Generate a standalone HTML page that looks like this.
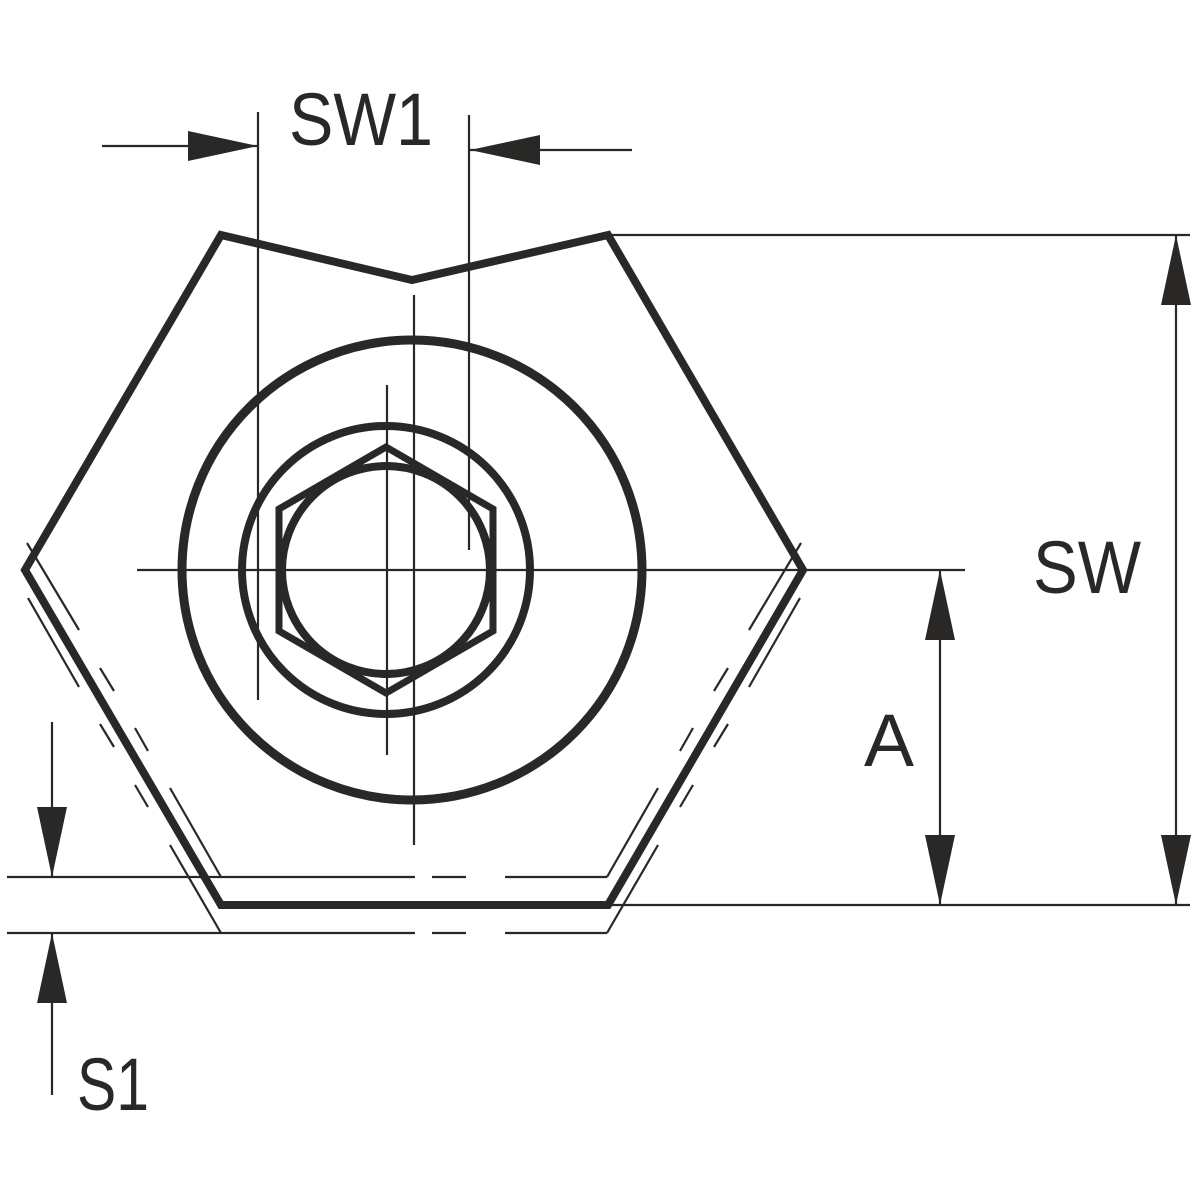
<!DOCTYPE html>
<html><head><meta charset="utf-8"><style>html,body{margin:0;padding:0;background:#fff}svg{display:block}</style></head><body>
<svg width="1200" height="1200" viewBox="0 0 1200 1200" xmlns="http://www.w3.org/2000/svg">
<defs>
<marker id="ah" viewBox="0 0 70 30" refX="70" refY="15" markerWidth="70" markerHeight="30" markerUnits="userSpaceOnUse" orient="auto"><path d="M0,0 L70,15 L0,30 Z" fill="#2a2727"/></marker>
</defs>
<g fill="none" stroke="#2a2727" stroke-linejoin="miter">
<polygon points="221,235 412,280 608,235 803,570 608,905 221,905 25,570" stroke-width="8"/>
<circle cx="412" cy="570" r="230" stroke-width="9"/>
<circle cx="386" cy="570" r="144" stroke-width="8"/>
<circle cx="386" cy="570" r="104" stroke-width="8"/>
<polygon points="386,447 493,509 493,631 386,693 279,631 279,509" stroke-width="7"/>
</g>
<g fill="none" stroke="#2a2727" stroke-width="2.2">
<line x1="137" y1="570" x2="965" y2="570"/>
<line x1="387" y1="385" x2="387" y2="755"/>
<line x1="414" y1="295" x2="414" y2="845"/>
<line x1="258" y1="112" x2="258" y2="700"/>
<line x1="469" y1="115" x2="469" y2="550"/>
<line x1="27" y1="543" x2="79" y2="630"/>
<line x1="28" y1="598" x2="79" y2="687"/>
<line x1="100" y1="668" x2="114" y2="691"/>
<line x1="135" y1="728" x2="148" y2="751"/>
<line x1="100" y1="724" x2="114" y2="747"/>
<line x1="135" y1="785" x2="148" y2="807"/>
<line x1="170" y1="788" x2="221" y2="877"/>
<line x1="170" y1="845" x2="221" y2="933"/>
<line x1="801" y1="543" x2="749" y2="630"/>
<line x1="800" y1="598" x2="749" y2="687"/>
<line x1="728" y1="668" x2="714" y2="691"/>
<line x1="693" y1="728" x2="680" y2="751"/>
<line x1="728" y1="724" x2="714" y2="747"/>
<line x1="693" y1="785" x2="680" y2="807"/>
<line x1="658" y1="788" x2="607" y2="877"/>
<line x1="658" y1="845" x2="607" y2="933"/>
<line x1="7" y1="877" x2="415" y2="877"/>
<line x1="432" y1="877" x2="466" y2="877"/>
<line x1="505" y1="877" x2="607" y2="877"/>
<line x1="7" y1="933" x2="415" y2="933"/>
<line x1="432" y1="933" x2="466" y2="933"/>
<line x1="505" y1="933" x2="607" y2="933"/>
<line x1="608" y1="235" x2="1190" y2="235"/>
<line x1="608" y1="905" x2="1190" y2="905"/>
<line x1="102" y1="146" x2="258" y2="146" marker-end="url(#ah)"/>
<line x1="632" y1="150" x2="470" y2="150" marker-end="url(#ah)"/>
<line x1="1176" y1="570" x2="1176" y2="235" marker-end="url(#ah)"/>
<line x1="1176" y1="570" x2="1176" y2="905" marker-end="url(#ah)"/>
<line x1="940" y1="740" x2="940" y2="570" marker-end="url(#ah)"/>
<line x1="940" y1="740" x2="940" y2="905" marker-end="url(#ah)"/>
<line x1="52" y1="722" x2="52" y2="877" marker-end="url(#ah)"/>
<line x1="52" y1="1095" x2="52" y2="933" marker-end="url(#ah)"/>
</g>
<g fill="#2a2727" font-family="Liberation Sans, sans-serif" font-size="74">
<text x="289" y="145" textLength="144" lengthAdjust="spacingAndGlyphs">SW1</text>
<text x="1033" y="593" textLength="108" lengthAdjust="spacingAndGlyphs">SW</text>
<text x="864" y="766" textLength="50" lengthAdjust="spacingAndGlyphs">A</text>
<text x="77" y="1110" textLength="72" lengthAdjust="spacingAndGlyphs">S1</text>
</g>
</svg>
</body></html>
